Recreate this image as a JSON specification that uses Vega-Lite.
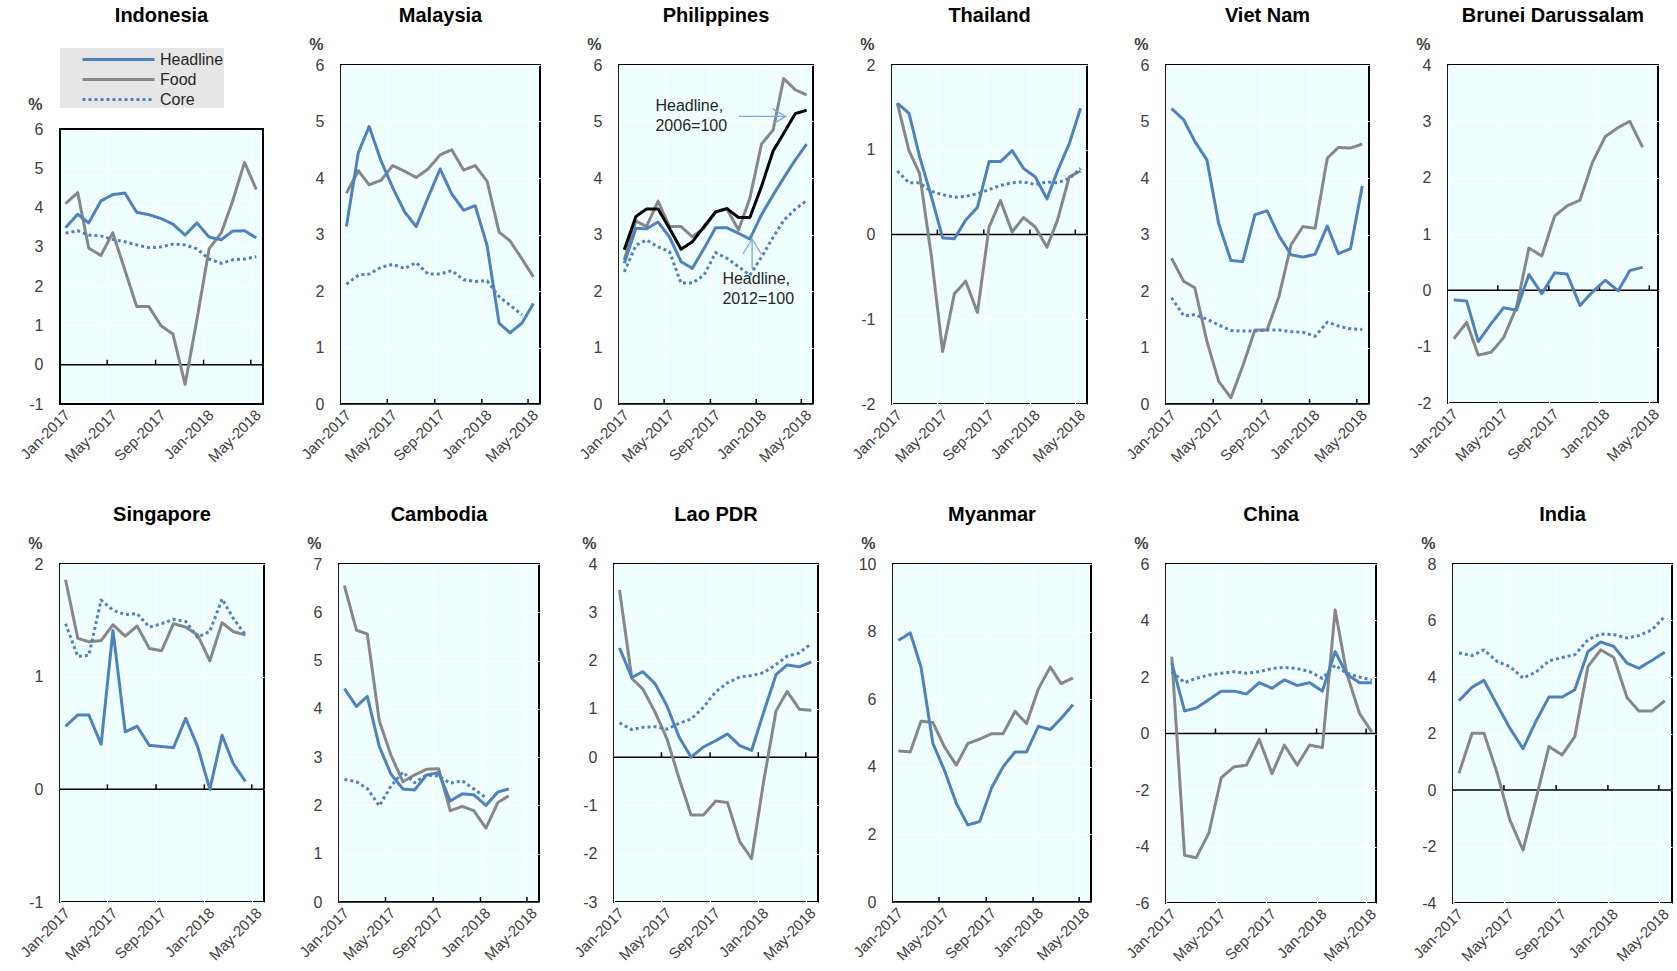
{
"$schema": "https://vega.github.io/schema/vega-lite/v6.json",
"background": "white",
"padding": {"left": 16, "top": 5, "right": 5, "bottom": 5},
"datasets": {
"cpi": [
{"country":"Indonesia","date":"2017-01-15","Headline":3.49,"Food":4.1,"Core":3.35},
{"country":"Indonesia","date":"2017-02-15","Headline":3.83,"Food":4.38,"Core":3.41},
{"country":"Indonesia","date":"2017-03-15","Headline":3.61,"Food":2.97,"Core":3.30},
{"country":"Indonesia","date":"2017-04-15","Headline":4.17,"Food":2.78,"Core":3.28},
{"country":"Indonesia","date":"2017-05-15","Headline":4.33,"Food":3.36,"Core":3.19},
{"country":"Indonesia","date":"2017-06-15","Headline":4.37,"Food":2.41,"Core":3.13},
{"country":"Indonesia","date":"2017-07-15","Headline":3.88,"Food":1.48,"Core":3.05},
{"country":"Indonesia","date":"2017-08-15","Headline":3.82,"Food":1.48,"Core":2.98},
{"country":"Indonesia","date":"2017-09-15","Headline":3.72,"Food":0.99,"Core":3.00},
{"country":"Indonesia","date":"2017-10-15","Headline":3.58,"Food":0.78,"Core":3.07},
{"country":"Indonesia","date":"2017-11-15","Headline":3.30,"Food":-0.5,"Core":3.05},
{"country":"Indonesia","date":"2017-12-15","Headline":3.61,"Food":1.15,"Core":2.95},
{"country":"Indonesia","date":"2018-01-15","Headline":3.25,"Food":2.95,"Core":2.69},
{"country":"Indonesia","date":"2018-02-15","Headline":3.18,"Food":3.36,"Core":2.58},
{"country":"Indonesia","date":"2018-03-15","Headline":3.40,"Food":4.14,"Core":2.67},
{"country":"Indonesia","date":"2018-04-15","Headline":3.41,"Food":5.15,"Core":2.69},
{"country":"Indonesia","date":"2018-05-15","Headline":3.23,"Food":4.46,"Core":2.75},
{"country":"Malaysia","date":"2017-01-15","Headline":3.14,"Food":3.73,"Core":2.12},
{"country":"Malaysia","date":"2017-02-15","Headline":4.45,"Food":4.13,"Core":2.28},
{"country":"Malaysia","date":"2017-03-15","Headline":4.91,"Food":3.88,"Core":2.3},
{"country":"Malaysia","date":"2017-04-15","Headline":4.3,"Food":3.96,"Core":2.42},
{"country":"Malaysia","date":"2017-05-15","Headline":3.83,"Food":4.22,"Core":2.47},
{"country":"Malaysia","date":"2017-06-15","Headline":3.4,"Food":4.12,"Core":2.4},
{"country":"Malaysia","date":"2017-07-15","Headline":3.14,"Food":4.01,"Core":2.5},
{"country":"Malaysia","date":"2017-08-15","Headline":3.66,"Food":4.16,"Core":2.3},
{"country":"Malaysia","date":"2017-09-15","Headline":4.16,"Food":4.41,"Core":2.3},
{"country":"Malaysia","date":"2017-10-15","Headline":3.72,"Food":4.5,"Core":2.36},
{"country":"Malaysia","date":"2017-11-15","Headline":3.43,"Food":4.14,"Core":2.2},
{"country":"Malaysia","date":"2017-12-15","Headline":3.51,"Food":4.22,"Core":2.17},
{"country":"Malaysia","date":"2018-01-15","Headline":2.8,"Food":3.94,"Core":2.18},
{"country":"Malaysia","date":"2018-02-15","Headline":1.43,"Food":3.04,"Core":1.9},
{"country":"Malaysia","date":"2018-03-15","Headline":1.26,"Food":2.89,"Core":1.75},
{"country":"Malaysia","date":"2018-04-15","Headline":1.43,"Food":2.57,"Core":1.58},
{"country":"Malaysia","date":"2018-05-15","Headline":1.78,"Food":2.25},
{"country":"Philippines","date":"2017-01-15","Headline":2.49,"H06":2.73,"Food":2.55,"Core":2.34},
{"country":"Philippines","date":"2017-02-15","Headline":3.11,"H06":3.32,"Food":3.24,"Core":2.81},
{"country":"Philippines","date":"2017-03-15","Headline":3.1,"H06":3.45,"Food":3.14,"Core":2.9},
{"country":"Philippines","date":"2017-04-15","Headline":3.22,"H06":3.45,"Food":3.59,"Core":2.78},
{"country":"Philippines","date":"2017-05-15","Headline":2.96,"H06":3.11,"Food":3.14,"Core":2.7},
{"country":"Philippines","date":"2017-06-15","Headline":2.52,"H06":2.74,"Food":3.14,"Core":2.14},
{"country":"Philippines","date":"2017-07-15","Headline":2.4,"H06":2.87,"Food":2.96,"Core":2.14},
{"country":"Philippines","date":"2017-08-15","Headline":2.75,"H06":3.14,"Food":3.11,"Core":2.28},
{"country":"Philippines","date":"2017-09-15","Headline":3.12,"H06":3.4,"Food":3.4,"Core":2.68},
{"country":"Philippines","date":"2017-10-15","Headline":3.12,"H06":3.46,"Food":3.45,"Core":2.58},
{"country":"Philippines","date":"2017-11-15","Headline":3.02,"H06":3.3,"Food":3.08,"Core":2.43},
{"country":"Philippines","date":"2017-12-15","Headline":2.92,"H06":3.3,"Food":3.64,"Core":2.28},
{"country":"Philippines","date":"2018-01-15","Headline":3.35,"H06":3.85,"Food":4.6,"Core":2.6},
{"country":"Philippines","date":"2018-02-15","Headline":3.7,"H06":4.48,"Food":4.85,"Core":2.95},
{"country":"Philippines","date":"2018-03-15","Headline":4.0,"H06":4.79,"Food":5.76,"Core":3.25},
{"country":"Philippines","date":"2018-04-15","Headline":4.32,"H06":5.14,"Food":5.56,"Core":3.45},
{"country":"Philippines","date":"2018-05-15","Headline":4.6,"H06":5.2,"Food":5.47,"Core":3.6},
{"country":"Thailand","date":"2017-01-15","Headline":1.55,"Food":1.55,"Core":0.75},
{"country":"Thailand","date":"2017-02-15","Headline":1.43,"Food":0.99,"Core":0.61},
{"country":"Thailand","date":"2017-03-15","Headline":0.92,"Food":0.72,"Core":0.61},
{"country":"Thailand","date":"2017-04-15","Headline":0.45,"Food":-0.25,"Core":0.51},
{"country":"Thailand","date":"2017-05-15","Headline":-0.04,"Food":-1.38,"Core":0.47},
{"country":"Thailand","date":"2017-06-15","Headline":-0.05,"Food":-0.7,"Core":0.44},
{"country":"Thailand","date":"2017-07-15","Headline":0.17,"Food":-0.55,"Core":0.45},
{"country":"Thailand","date":"2017-08-15","Headline":0.32,"Food":-0.92,"Core":0.48},
{"country":"Thailand","date":"2017-09-15","Headline":0.86,"Food":0.09,"Core":0.53},
{"country":"Thailand","date":"2017-10-15","Headline":0.86,"Food":0.4,"Core":0.58},
{"country":"Thailand","date":"2017-11-15","Headline":0.99,"Food":0.03,"Core":0.61},
{"country":"Thailand","date":"2017-12-15","Headline":0.78,"Food":0.2,"Core":0.62},
{"country":"Thailand","date":"2018-01-15","Headline":0.68,"Food":0.09,"Core":0.59},
{"country":"Thailand","date":"2018-02-15","Headline":0.42,"Food":-0.15,"Core":0.62},
{"country":"Thailand","date":"2018-03-15","Headline":0.75,"Food":0.17,"Core":0.61},
{"country":"Thailand","date":"2018-04-15","Headline":1.07,"Food":0.68,"Core":0.66},
{"country":"Thailand","date":"2018-05-15","Headline":1.49,"Food":0.75,"Core":0.78},
{"country":"Viet Nam","date":"2017-01-15","Headline":5.23,"Food":2.58,"Core":1.88},
{"country":"Viet Nam","date":"2017-02-15","Headline":5.03,"Food":2.17,"Core":1.56},
{"country":"Viet Nam","date":"2017-03-15","Headline":4.65,"Food":2.06,"Core":1.58},
{"country":"Viet Nam","date":"2017-04-15","Headline":4.32,"Food":1.11,"Core":1.5},
{"country":"Viet Nam","date":"2017-05-15","Headline":3.19,"Food":0.4,"Core":1.4},
{"country":"Viet Nam","date":"2017-06-15","Headline":2.54,"Food":0.11,"Core":1.3},
{"country":"Viet Nam","date":"2017-07-15","Headline":2.52,"Food":0.67,"Core":1.29},
{"country":"Viet Nam","date":"2017-08-15","Headline":3.35,"Food":1.31,"Core":1.29},
{"country":"Viet Nam","date":"2017-09-15","Headline":3.42,"Food":1.31,"Core":1.31},
{"country":"Viet Nam","date":"2017-10-15","Headline":2.98,"Food":1.9,"Core":1.31},
{"country":"Viet Nam","date":"2017-11-15","Headline":2.64,"Food":2.82,"Core":1.28},
{"country":"Viet Nam","date":"2017-12-15","Headline":2.6,"Food":3.14,"Core":1.27},
{"country":"Viet Nam","date":"2018-01-15","Headline":2.65,"Food":3.11,"Core":1.2},
{"country":"Viet Nam","date":"2018-02-15","Headline":3.15,"Food":4.35,"Core":1.45},
{"country":"Viet Nam","date":"2018-03-15","Headline":2.66,"Food":4.54,"Core":1.38},
{"country":"Viet Nam","date":"2018-04-15","Headline":2.75,"Food":4.53,"Core":1.33},
{"country":"Viet Nam","date":"2018-05-15","Headline":3.86,"Food":4.6,"Core":1.32},
{"country":"Brunei Darussalam","date":"2017-01-15","Headline":-0.17,"Food":-0.86},
{"country":"Brunei Darussalam","date":"2017-02-15","Headline":-0.19,"Food":-0.57},
{"country":"Brunei Darussalam","date":"2017-03-15","Headline":-0.91,"Food":-1.15},
{"country":"Brunei Darussalam","date":"2017-04-15","Headline":-0.59,"Food":-1.1},
{"country":"Brunei Darussalam","date":"2017-05-15","Headline":-0.31,"Food":-0.84},
{"country":"Brunei Darussalam","date":"2017-06-15","Headline":-0.35,"Food":-0.3},
{"country":"Brunei Darussalam","date":"2017-07-15","Headline":0.28,"Food":0.75},
{"country":"Brunei Darussalam","date":"2017-08-15","Headline":-0.06,"Food":0.61},
{"country":"Brunei Darussalam","date":"2017-09-15","Headline":0.31,"Food":1.32},
{"country":"Brunei Darussalam","date":"2017-10-15","Headline":0.29,"Food":1.5},
{"country":"Brunei Darussalam","date":"2017-11-15","Headline":-0.27,"Food":1.6},
{"country":"Brunei Darussalam","date":"2017-12-15","Headline":-0.03,"Food":2.27},
{"country":"Brunei Darussalam","date":"2018-01-15","Headline":0.18,"Food":2.73},
{"country":"Brunei Darussalam","date":"2018-02-15","Headline":-0.01,"Food":2.89},
{"country":"Brunei Darussalam","date":"2018-03-15","Headline":0.35,"Food":3.0},
{"country":"Brunei Darussalam","date":"2018-04-15","Headline":0.41,"Food":2.54},
{"country":"Singapore","date":"2017-01-15","Headline":0.56,"Food":1.86,"Core":1.47},
{"country":"Singapore","date":"2017-02-15","Headline":0.66,"Food":1.34,"Core":1.18},
{"country":"Singapore","date":"2017-03-15","Headline":0.66,"Food":1.31,"Core":1.19},
{"country":"Singapore","date":"2017-04-15","Headline":0.4,"Food":1.32,"Core":1.68},
{"country":"Singapore","date":"2017-05-15","Headline":1.41,"Food":1.46,"Core":1.59},
{"country":"Singapore","date":"2017-06-15","Headline":0.51,"Food":1.36,"Core":1.55},
{"country":"Singapore","date":"2017-07-15","Headline":0.56,"Food":1.45,"Core":1.56},
{"country":"Singapore","date":"2017-08-15","Headline":0.39,"Food":1.25,"Core":1.44},
{"country":"Singapore","date":"2017-09-15","Headline":0.38,"Food":1.23,"Core":1.47},
{"country":"Singapore","date":"2017-10-15","Headline":0.37,"Food":1.47,"Core":1.51},
{"country":"Singapore","date":"2017-11-15","Headline":0.63,"Food":1.44,"Core":1.49},
{"country":"Singapore","date":"2017-12-15","Headline":0.38,"Food":1.37,"Core":1.35},
{"country":"Singapore","date":"2018-01-15","Headline":0.0,"Food":1.14,"Core":1.4},
{"country":"Singapore","date":"2018-02-15","Headline":0.48,"Food":1.48,"Core":1.69},
{"country":"Singapore","date":"2018-03-15","Headline":0.23,"Food":1.4,"Core":1.52},
{"country":"Singapore","date":"2018-04-15","Headline":0.07,"Food":1.37,"Core":1.37},
{"country":"Cambodia","date":"2017-01-15","Headline":4.42,"Food":6.55,"Core":2.54},
{"country":"Cambodia","date":"2017-02-15","Headline":4.05,"Food":5.63,"Core":2.49},
{"country":"Cambodia","date":"2017-03-15","Headline":4.26,"Food":5.55,"Core":2.35},
{"country":"Cambodia","date":"2017-04-15","Headline":3.22,"Food":3.75,"Core":1.99},
{"country":"Cambodia","date":"2017-05-15","Headline":2.65,"Food":3.04,"Core":2.4},
{"country":"Cambodia","date":"2017-06-15","Headline":2.34,"Food":2.49,"Core":2.69},
{"country":"Cambodia","date":"2017-07-15","Headline":2.32,"Food":2.63,"Core":2.47},
{"country":"Cambodia","date":"2017-08-15","Headline":2.63,"Food":2.75,"Core":2.63},
{"country":"Cambodia","date":"2017-09-15","Headline":2.68,"Food":2.76,"Core":2.61},
{"country":"Cambodia","date":"2017-10-15","Headline":2.09,"Food":1.89,"Core":2.46},
{"country":"Cambodia","date":"2017-11-15","Headline":2.24,"Food":1.98,"Core":2.51},
{"country":"Cambodia","date":"2017-12-15","Headline":2.22,"Food":1.89,"Core":2.34},
{"country":"Cambodia","date":"2018-01-15","Headline":2.0,"Food":1.53,"Core":2.16},
{"country":"Cambodia","date":"2018-02-15","Headline":2.28,"Food":2.06},
{"country":"Cambodia","date":"2018-03-15","Headline":2.34,"Food":2.2},
{"country":"Lao PDR","date":"2017-01-15","Headline":2.26,"Food":3.46,"Core":0.71},
{"country":"Lao PDR","date":"2017-02-15","Headline":1.65,"Food":1.63,"Core":0.57},
{"country":"Lao PDR","date":"2017-03-15","Headline":1.77,"Food":1.41,"Core":0.62},
{"country":"Lao PDR","date":"2017-04-15","Headline":1.52,"Food":0.93,"Core":0.63},
{"country":"Lao PDR","date":"2017-05-15","Headline":1.06,"Food":0.38,"Core":0.58},
{"country":"Lao PDR","date":"2017-06-15","Headline":0.41,"Food":-0.45,"Core":0.7},
{"country":"Lao PDR","date":"2017-07-15","Headline":0.0,"Food":-1.2,"Core":0.79},
{"country":"Lao PDR","date":"2017-08-15","Headline":0.21,"Food":-1.2,"Core":1.03},
{"country":"Lao PDR","date":"2017-09-15","Headline":0.34,"Food":-0.91,"Core":1.35},
{"country":"Lao PDR","date":"2017-10-15","Headline":0.48,"Food":-0.94,"Core":1.54},
{"country":"Lao PDR","date":"2017-11-15","Headline":0.24,"Food":-1.75,"Core":1.66},
{"country":"Lao PDR","date":"2017-12-15","Headline":0.14,"Food":-2.1,"Core":1.69},
{"country":"Lao PDR","date":"2018-01-15","Headline":0.94,"Food":-0.48,"Core":1.75},
{"country":"Lao PDR","date":"2018-02-15","Headline":1.71,"Food":0.96,"Core":1.92},
{"country":"Lao PDR","date":"2018-03-15","Headline":1.91,"Food":1.36,"Core":2.09},
{"country":"Lao PDR","date":"2018-04-15","Headline":1.87,"Food":0.99,"Core":2.16},
{"country":"Lao PDR","date":"2018-05-15","Headline":1.97,"Food":0.97,"Core":2.35},
{"country":"Myanmar","date":"2017-01-15","Headline":7.74,"Food":4.47},
{"country":"Myanmar","date":"2017-02-15","Headline":7.96,"Food":4.44},
{"country":"Myanmar","date":"2017-03-15","Headline":6.95,"Food":5.35},
{"country":"Myanmar","date":"2017-04-15","Headline":4.69,"Food":5.31},
{"country":"Myanmar","date":"2017-05-15","Headline":3.9,"Food":4.59},
{"country":"Myanmar","date":"2017-06-15","Headline":2.92,"Food":4.05},
{"country":"Myanmar","date":"2017-07-15","Headline":2.28,"Food":4.69},
{"country":"Myanmar","date":"2017-08-15","Headline":2.38,"Food":4.82},
{"country":"Myanmar","date":"2017-09-15","Headline":3.38,"Food":4.98},
{"country":"Myanmar","date":"2017-10-15","Headline":4.0,"Food":4.98},
{"country":"Myanmar","date":"2017-11-15","Headline":4.44,"Food":5.64},
{"country":"Myanmar","date":"2017-12-15","Headline":4.44,"Food":5.28},
{"country":"Myanmar","date":"2018-01-15","Headline":5.2,"Food":6.31},
{"country":"Myanmar","date":"2018-02-15","Headline":5.1,"Food":6.95},
{"country":"Myanmar","date":"2018-03-15","Headline":5.43,"Food":6.46},
{"country":"Myanmar","date":"2018-04-15","Headline":5.84,"Food":6.63},
{"country":"China","date":"2017-01-15","Headline":2.5,"Food":2.72,"Core":2.19},
{"country":"China","date":"2017-02-15","Headline":0.8,"Food":-4.31,"Core":1.8},
{"country":"China","date":"2017-03-15","Headline":0.9,"Food":-4.4,"Core":1.95},
{"country":"China","date":"2017-04-15","Headline":1.2,"Food":-3.52,"Core":2.07},
{"country":"China","date":"2017-05-15","Headline":1.5,"Food":-1.56,"Core":2.13},
{"country":"China","date":"2017-06-15","Headline":1.5,"Food":-1.18,"Core":2.19},
{"country":"China","date":"2017-07-15","Headline":1.4,"Food":-1.12,"Core":2.13},
{"country":"China","date":"2017-08-15","Headline":1.8,"Food":-0.21,"Core":2.19},
{"country":"China","date":"2017-09-15","Headline":1.6,"Food":-1.42,"Core":2.3},
{"country":"China","date":"2017-10-15","Headline":1.9,"Food":-0.41,"Core":2.34},
{"country":"China","date":"2017-11-15","Headline":1.7,"Food":-1.12,"Core":2.3},
{"country":"China","date":"2017-12-15","Headline":1.8,"Food":-0.41,"Core":2.19},
{"country":"China","date":"2018-01-15","Headline":1.5,"Food":-0.5,"Core":1.95},
{"country":"China","date":"2018-02-15","Headline":2.9,"Food":4.37,"Core":2.42},
{"country":"China","date":"2018-03-15","Headline":2.1,"Food":2.13,"Core":2.13},
{"country":"China","date":"2018-04-15","Headline":1.8,"Food":0.71,"Core":2.0},
{"country":"China","date":"2018-05-15","Headline":1.8,"Food":0.05,"Core":1.89},
{"country":"India","date":"2017-01-15","Headline":3.16,"Food":0.59,"Core":4.85},
{"country":"India","date":"2017-02-15","Headline":3.64,"Food":2.01,"Core":4.76},
{"country":"India","date":"2017-03-15","Headline":3.88,"Food":2.01,"Core":4.96},
{"country":"India","date":"2017-04-15","Headline":3.01,"Food":0.6,"Core":4.55},
{"country":"India","date":"2017-05-15","Headline":2.19,"Food":-1.06,"Core":4.37},
{"country":"India","date":"2017-06-15","Headline":1.46,"Food":-2.13,"Core":3.96},
{"country":"India","date":"2017-07-15","Headline":2.42,"Food":-0.35,"Core":4.17},
{"country":"India","date":"2017-08-15","Headline":3.29,"Food":1.54,"Core":4.57},
{"country":"India","date":"2017-09-15","Headline":3.29,"Food":1.24,"Core":4.69},
{"country":"India","date":"2017-10-15","Headline":3.55,"Food":1.89,"Core":4.79},
{"country":"India","date":"2017-11-15","Headline":4.9,"Food":4.37,"Core":5.32},
{"country":"India","date":"2017-12-15","Headline":5.24,"Food":4.96,"Core":5.52},
{"country":"India","date":"2018-01-15","Headline":5.08,"Food":4.69,"Core":5.5},
{"country":"India","date":"2018-02-15","Headline":4.49,"Food":3.27,"Core":5.38},
{"country":"India","date":"2018-03-15","Headline":4.31,"Food":2.8,"Core":5.47},
{"country":"India","date":"2018-04-15","Headline":4.59,"Food":2.8,"Core":5.67},
{"country":"India","date":"2018-05-15","Headline":4.88,"Food":3.16,"Core":6.15}
],
"notes": [
{"date":"2017-04-08","value":5.28,"label":"Headline,\n2006=100"},
{"date":"2017-10-03","value":2.22,"label":"Headline,\n2012=100"}
],
"arrows": [
{"date":"2017-11-16","value":5.09,"date2":"2018-03-20","value2":5.09,"dir":"right"},
{"date":"2017-12-21","value":2.40,"date2":"2017-12-21","value2":2.92,"dir":"up"}
],
"igrid": [
{"date":"2017-05-01"},{"date":"2017-09-01"},{"date":"2018-01-01"},{"date":"2018-05-01"}
],
"ihgrid": [
{"v":0},{"v":1},{"v":2},{"v":3},{"v":4},{"v":5}
]
},
"spacing": 38,
"resolve": {"scale": {"color": "independent", "strokeDash": "independent"}, "legend": {"color": "independent", "strokeDash": "independent"}},
"vconcat": [
{"columns": 6, "align": "none", "spacing": 33,
 "resolve": {"scale": {"color": "independent", "strokeDash": "independent"}, "legend": {"color": "independent", "strokeDash": "independent"}},
 "concat": [
{"title": {"text": "Indonesia", "offset": 22}, "width": 203, "height": 339, "view": {"stroke": null, "fill": null},
 "layer": [
  {"data": {"values": [{}]}, "mark": {"type": "rect", "fill": "#EFFFFF", "strokeWidth": 0},
   "encoding": {
    "x": {"datum": {"year": 2017, "month": 1, "date": 1}, "type": "temporal", "scale": {"domain": [{"year": 2017, "month": 1, "date": 1}, {"year": 2018, "month": 6, "date": 1}]}, "axis": {"values": [{"year": 2017, "month": 1, "date": 1}, {"year": 2017, "month": 5, "date": 1}, {"year": 2017, "month": 9, "date": 1}, {"year": 2018, "month": 1, "date": 1}, {"year": 2018, "month": 5, "date": 1}], "format": "%b-%Y", "title": null, "grid": false}},
    "x2": {"datum": {"year": 2018, "month": 6, "date": 1}},
    "y": {"datum": -1, "type": "quantitative", "scale": {"domain": [-1, 7.63], "nice": false, "zero": false}, "axis": {"values": [-1, 0, 1, 2, 3, 4, 5, 6], "title": "%", "titleY": 39, "grid": false}},
    "y2": {"datum": 6}}},
  {"data": {"name": "igrid"}, "mark": {"type": "rule", "color": "#FFFFFF", "strokeWidth": 1.2},
   "encoding": {"x": {"field": "date", "type": "temporal"}, "y": {"datum": -1, "type": "quantitative"}, "y2": {"datum": 6}}},
  {"data": {"name": "ihgrid"}, "mark": {"type": "rule", "color": "#FFFFFF", "strokeWidth": 1.2},
   "encoding": {"y": {"field": "v", "type": "quantitative"}}},
  {"data": {"values": [{}]}, "mark": {"type": "rule", "color": "black", "strokeWidth": 1.5}, "encoding": {"y": {"datum": 0, "type": "quantitative"}}},
  {"data": {"name": "igrid"}, "mark": {"type": "point", "shape": "M0,0L0,-1", "size": 100, "filled": false, "color": "black", "strokeWidth": 1.5, "opacity": 1}, "encoding": {"x": {"field": "date", "type": "temporal"}, "y": {"datum": 0, "type": "quantitative"}}},
  {"data": {"values": [{}]}, "mark": {"type": "rect", "fillOpacity": 0, "stroke": "#000000", "strokeWidth": 2},
   "encoding": {"x": {"datum": {"year": 2017, "month": 1, "date": 1}, "type": "temporal"}, "x2": {"datum": {"year": 2018, "month": 6, "date": 1}}, "y": {"datum": -1, "type": "quantitative"}, "y2": {"datum": 6}}},
  {"data": {"name": "cpi"},
   "transform": [{"filter": "datum.country === 'Indonesia'"}, {"fold": ["Food", "Core", "Headline"], "as": ["series", "value"]}, {"filter": "isValid(datum.value)"}],
   "mark": {"type": "line", "strokeWidth": 3},
   "encoding": {
    "x": {"field": "date", "type": "temporal", "scale": {"domain": [{"year": 2017, "month": 1, "date": 1}, {"year": 2018, "month": 6, "date": 1}]}, "axis": {"values": [{"year": 2017, "month": 1, "date": 1}, {"year": 2017, "month": 5, "date": 1}, {"year": 2017, "month": 9, "date": 1}, {"year": 2018, "month": 1, "date": 1}, {"year": 2018, "month": 5, "date": 1}], "format": "%b-%Y", "title": null, "grid": false}},
    "y": {"field": "value", "type": "quantitative", "scale": {"domain": [-1, 7.63], "nice": false, "zero": false}, "axis": {"values": [-1, 0, 1, 2, 3, 4, 5, 6], "title": "%", "titleY": 39, "grid": false}},
    "color": {"field": "series", "type": "nominal", "scale": {"domain": ["Headline", "Food", "Core"], "range": ["#4F81BD", "#878787", "#4F81BD"]},
      "legend": {"orient": "none", "legendX": 0, "legendY": -17, "title": null, "values": ["Headline", "Food", "Core"], "labelExpr": "datum.label + '\u00a0\u00a0\u00a0\u00a0\u00a0\u00a0\u00a0\u00a0\u00a0\u00a0'", "fillColor": "#E6E6E6", "padding": 0, "symbolType": "M-3.6,0L3.6,0", "symbolSize": 400, "symbolStrokeWidth": 3, "symbolOffset": 47, "labelOffset": 30, "labelFontSize": 16, "labelColor": "#262626", "rowPadding": 0, "direction": "vertical"}},
    "strokeDash": {"field": "series", "type": "nominal", "scale": {"domain": ["Headline", "Food", "Core"], "range": [[1, 0], [1, 0], [3, 3]]},
      "legend": {"orient": "none", "legendX": 0, "legendY": -17, "title": null, "values": ["Headline", "Food", "Core"], "labelExpr": "datum.label + '\u00a0\u00a0\u00a0\u00a0\u00a0\u00a0\u00a0\u00a0\u00a0\u00a0'", "fillColor": "#E6E6E6", "padding": 0, "symbolType": "M-3.6,0L3.6,0", "symbolSize": 400, "symbolStrokeWidth": 3, "symbolOffset": 47, "labelOffset": 30, "labelFontSize": 16, "labelColor": "#262626", "rowPadding": 0, "direction": "vertical"}}
   }}
 ]},
{"title": "Malaysia", "width": 199, "height": 339,
 "layer": [
  {"data": {"values": [{}]}, "mark": {"type": "rule", "color": "black", "strokeWidth": 1.5}, "encoding": {"y": {"datum": 0, "type": "quantitative", "scale": {"domain": [0, 6], "nice": false, "zero": false}, "axis": {"values": [0, 1, 2, 3, 4, 5, 6], "title": "%"}}}},
  {"data": {"name": "igrid"}, "mark": {"type": "point", "shape": "M0,0L0,-1", "size": 100, "filled": false, "color": "black", "strokeWidth": 1.5, "opacity": 1}, "encoding": {"x": {"field": "date", "type": "temporal", "scale": {"domain": [{"year": 2017, "month": 1, "date": 1}, {"year": 2018, "month": 6, "date": 1}]}, "axis": {"values": [{"year": 2017, "month": 1, "date": 1}, {"year": 2017, "month": 5, "date": 1}, {"year": 2017, "month": 9, "date": 1}, {"year": 2018, "month": 1, "date": 1}, {"year": 2018, "month": 5, "date": 1}], "format": "%b-%Y", "title": null}}, "y": {"datum": 0, "type": "quantitative"}}},
  {"data": {"name": "cpi"},
   "transform": [{"filter": "datum.country === 'Malaysia'"}, {"fold": ["Food", "Core", "Headline"], "as": ["series", "value"]}, {"filter": "isValid(datum.value)"}],
   "mark": {"type": "line", "strokeWidth": 3},
   "encoding": {
    "x": {"field": "date", "type": "temporal", "scale": {"domain": [{"year": 2017, "month": 1, "date": 1}, {"year": 2018, "month": 6, "date": 1}]}, "axis": {"values": [{"year": 2017, "month": 1, "date": 1}, {"year": 2017, "month": 5, "date": 1}, {"year": 2017, "month": 9, "date": 1}, {"year": 2018, "month": 1, "date": 1}, {"year": 2018, "month": 5, "date": 1}], "format": "%b-%Y", "title": null}},
    "y": {"field": "value", "type": "quantitative", "scale": {"domain": [0, 6], "nice": false, "zero": false}, "axis": {"values": [0, 1, 2, 3, 4, 5, 6], "title": "%"}},
    "color": {"field": "series", "type": "nominal", "scale": {"domain": ["Headline", "Food", "Core"], "range": ["#4F81BD", "#878787", "#4F81BD"]}, "legend": null},
    "strokeDash": {"field": "series", "type": "nominal", "scale": {"domain": ["Headline", "Food", "Core"], "range": [[1, 0], [1, 0], [3, 3]]}, "legend": null}
   }}
 ]},
{"title": "Philippines", "width": 194, "height": 339,
 "layer": [
  {"data": {"values": [{}]}, "mark": {"type": "rule", "color": "black", "strokeWidth": 1.5}, "encoding": {"y": {"datum": 0, "type": "quantitative", "scale": {"domain": [0, 6], "nice": false, "zero": false}, "axis": {"values": [0, 1, 2, 3, 4, 5, 6], "title": "%"}}}},
  {"data": {"name": "igrid"}, "mark": {"type": "point", "shape": "M0,0L0,-1", "size": 100, "filled": false, "color": "black", "strokeWidth": 1.5, "opacity": 1}, "encoding": {"x": {"field": "date", "type": "temporal", "scale": {"domain": [{"year": 2017, "month": 1, "date": 1}, {"year": 2018, "month": 6, "date": 1}]}, "axis": {"values": [{"year": 2017, "month": 1, "date": 1}, {"year": 2017, "month": 5, "date": 1}, {"year": 2017, "month": 9, "date": 1}, {"year": 2018, "month": 1, "date": 1}, {"year": 2018, "month": 5, "date": 1}], "format": "%b-%Y", "title": null}}, "y": {"datum": 0, "type": "quantitative"}}},
  {"data": {"name": "cpi"},
   "transform": [{"filter": "datum.country === 'Philippines'"}, {"fold": ["Food", "Core", "Headline", "H06"], "as": ["series", "value"]}, {"filter": "isValid(datum.value)"}],
   "mark": {"type": "line", "strokeWidth": 3},
   "encoding": {
    "x": {"field": "date", "type": "temporal", "scale": {"domain": [{"year": 2017, "month": 1, "date": 1}, {"year": 2018, "month": 6, "date": 1}]}, "axis": {"values": [{"year": 2017, "month": 1, "date": 1}, {"year": 2017, "month": 5, "date": 1}, {"year": 2017, "month": 9, "date": 1}, {"year": 2018, "month": 1, "date": 1}, {"year": 2018, "month": 5, "date": 1}], "format": "%b-%Y", "title": null}},
    "y": {"field": "value", "type": "quantitative", "scale": {"domain": [0, 6], "nice": false, "zero": false}, "axis": {"values": [0, 1, 2, 3, 4, 5, 6], "title": "%"}},
    "color": {"field": "series", "type": "nominal", "scale": {"domain": ["Headline", "Food", "Core", "H06"], "range": ["#4F81BD", "#878787", "#4F81BD", "#000000"]}, "legend": null},
    "strokeDash": {"field": "series", "type": "nominal", "scale": {"domain": ["Headline", "Food", "Core", "H06"], "range": [[1, 0], [1, 0], [3, 3], [1, 0]]}, "legend": null}
   }},
  {"data": {"name": "notes"}, "mark": {"type": "text", "align": "left", "baseline": "middle", "fontSize": 16, "lineHeight": 20, "lineBreak": "\n", "color": "#262626"},
   "encoding": {"x": {"field": "date", "type": "temporal"}, "y": {"field": "value", "type": "quantitative"}, "text": {"field": "label"}}},
  {"data": {"name": "arrows"}, "mark": {"type": "rule", "color": "#79A7E0", "strokeWidth": 1.3},
   "encoding": {"x": {"field": "date", "type": "temporal"}, "x2": {"field": "date2"}, "y": {"field": "value", "type": "quantitative"}, "y2": {"field": "value2"}}},
  {"data": {"name": "arrows"}, "mark": {"type": "point", "filled": false, "color": "#79A7E0", "strokeWidth": 1.3, "size": 169, "opacity": 1},
   "encoding": {"x": {"field": "date2", "type": "temporal"}, "y": {"field": "value2", "type": "quantitative"},
    "shape": {"field": "dir", "type": "nominal", "scale": {"domain": ["right", "up"], "range": ["M-2,-1.2L0,0L-2,1.2", "M-1.4,2.3L0,0L1.4,2.3"]}, "legend": null}}}
 ]},
{"title": "Thailand", "width": 195, "height": 339,
 "layer": [
  {"data": {"values": [{}]}, "mark": {"type": "rule", "color": "black", "strokeWidth": 1.5}, "encoding": {"y": {"datum": 0, "type": "quantitative", "scale": {"domain": [-2, 2], "nice": false, "zero": false}, "axis": {"values": [-2, -1, 0, 1, 2], "title": "%"}}}},
  {"data": {"name": "igrid"}, "mark": {"type": "point", "shape": "M0,0L0,-1", "size": 100, "filled": false, "color": "black", "strokeWidth": 1.5, "opacity": 1}, "encoding": {"x": {"field": "date", "type": "temporal", "scale": {"domain": [{"year": 2017, "month": 1, "date": 1}, {"year": 2018, "month": 6, "date": 1}]}, "axis": {"values": [{"year": 2017, "month": 1, "date": 1}, {"year": 2017, "month": 5, "date": 1}, {"year": 2017, "month": 9, "date": 1}, {"year": 2018, "month": 1, "date": 1}, {"year": 2018, "month": 5, "date": 1}], "format": "%b-%Y", "title": null}}, "y": {"datum": 0, "type": "quantitative"}}},
  {"data": {"name": "cpi"},
   "transform": [{"filter": "datum.country === 'Thailand'"}, {"fold": ["Food", "Core", "Headline"], "as": ["series", "value"]}, {"filter": "isValid(datum.value)"}],
   "mark": {"type": "line", "strokeWidth": 3},
   "encoding": {
    "x": {"field": "date", "type": "temporal", "scale": {"domain": [{"year": 2017, "month": 1, "date": 1}, {"year": 2018, "month": 6, "date": 1}]}, "axis": {"values": [{"year": 2017, "month": 1, "date": 1}, {"year": 2017, "month": 5, "date": 1}, {"year": 2017, "month": 9, "date": 1}, {"year": 2018, "month": 1, "date": 1}, {"year": 2018, "month": 5, "date": 1}], "format": "%b-%Y", "title": null}},
    "y": {"field": "value", "type": "quantitative", "scale": {"domain": [-2, 2], "nice": false, "zero": false}, "axis": {"values": [-2, -1, 0, 1, 2], "title": "%"}},
    "color": {"field": "series", "type": "nominal", "scale": {"domain": ["Headline", "Food", "Core"], "range": ["#4F81BD", "#878787", "#4F81BD"]}, "legend": null},
    "strokeDash": {"field": "series", "type": "nominal", "scale": {"domain": ["Headline", "Food", "Core"], "range": [[1, 0], [1, 0], [3, 3]]}, "legend": null}
   }}
 ]},
{"title": "Viet Nam", "width": 203, "height": 339,
 "layer": [
  {"data": {"values": [{}]}, "mark": {"type": "rule", "color": "black", "strokeWidth": 1.5}, "encoding": {"y": {"datum": 0, "type": "quantitative", "scale": {"domain": [0, 6], "nice": false, "zero": false}, "axis": {"values": [0, 1, 2, 3, 4, 5, 6], "title": "%"}}}},
  {"data": {"name": "igrid"}, "mark": {"type": "point", "shape": "M0,0L0,-1", "size": 100, "filled": false, "color": "black", "strokeWidth": 1.5, "opacity": 1}, "encoding": {"x": {"field": "date", "type": "temporal", "scale": {"domain": [{"year": 2017, "month": 1, "date": 1}, {"year": 2018, "month": 6, "date": 1}]}, "axis": {"values": [{"year": 2017, "month": 1, "date": 1}, {"year": 2017, "month": 5, "date": 1}, {"year": 2017, "month": 9, "date": 1}, {"year": 2018, "month": 1, "date": 1}, {"year": 2018, "month": 5, "date": 1}], "format": "%b-%Y", "title": null}}, "y": {"datum": 0, "type": "quantitative"}}},
  {"data": {"name": "cpi"},
   "transform": [{"filter": "datum.country === 'Viet Nam'"}, {"fold": ["Food", "Core", "Headline"], "as": ["series", "value"]}, {"filter": "isValid(datum.value)"}],
   "mark": {"type": "line", "strokeWidth": 3},
   "encoding": {
    "x": {"field": "date", "type": "temporal", "scale": {"domain": [{"year": 2017, "month": 1, "date": 1}, {"year": 2018, "month": 6, "date": 1}]}, "axis": {"values": [{"year": 2017, "month": 1, "date": 1}, {"year": 2017, "month": 5, "date": 1}, {"year": 2017, "month": 9, "date": 1}, {"year": 2018, "month": 1, "date": 1}, {"year": 2018, "month": 5, "date": 1}], "format": "%b-%Y", "title": null}},
    "y": {"field": "value", "type": "quantitative", "scale": {"domain": [0, 6], "nice": false, "zero": false}, "axis": {"values": [0, 1, 2, 3, 4, 5, 6], "title": "%"}},
    "color": {"field": "series", "type": "nominal", "scale": {"domain": ["Headline", "Food", "Core"], "range": ["#4F81BD", "#878787", "#4F81BD"]}, "legend": null},
    "strokeDash": {"field": "series", "type": "nominal", "scale": {"domain": ["Headline", "Food", "Core"], "range": [[1, 0], [1, 0], [3, 3]]}, "legend": null}
   }}
 ]},
{"title": "Brunei Darussalam", "width": 210, "height": 338,
 "layer": [
  {"data": {"values": [{}]}, "mark": {"type": "rule", "color": "black", "strokeWidth": 1.5}, "encoding": {"y": {"datum": 0, "type": "quantitative", "scale": {"domain": [-2, 4], "nice": false, "zero": false}, "axis": {"values": [-2, -1, 0, 1, 2, 3, 4], "title": "%"}}}},
  {"data": {"name": "igrid"}, "mark": {"type": "point", "shape": "M0,0L0,-1", "size": 100, "filled": false, "color": "black", "strokeWidth": 1.5, "opacity": 1}, "encoding": {"x": {"field": "date", "type": "temporal", "scale": {"domain": [{"year": 2017, "month": 1, "date": 1}, {"year": 2018, "month": 5, "date": 22}]}, "axis": {"values": [{"year": 2017, "month": 1, "date": 1}, {"year": 2017, "month": 5, "date": 1}, {"year": 2017, "month": 9, "date": 1}, {"year": 2018, "month": 1, "date": 1}, {"year": 2018, "month": 5, "date": 1}], "format": "%b-%Y", "title": null}}, "y": {"datum": 0, "type": "quantitative"}}},
  {"data": {"name": "cpi"},
   "transform": [{"filter": "datum.country === 'Brunei Darussalam'"}, {"fold": ["Food", "Core", "Headline"], "as": ["series", "value"]}, {"filter": "isValid(datum.value)"}],
   "mark": {"type": "line", "strokeWidth": 3},
   "encoding": {
    "x": {"field": "date", "type": "temporal", "scale": {"domain": [{"year": 2017, "month": 1, "date": 1}, {"year": 2018, "month": 5, "date": 22}]}, "axis": {"values": [{"year": 2017, "month": 1, "date": 1}, {"year": 2017, "month": 5, "date": 1}, {"year": 2017, "month": 9, "date": 1}, {"year": 2018, "month": 1, "date": 1}, {"year": 2018, "month": 5, "date": 1}], "format": "%b-%Y", "title": null}},
    "y": {"field": "value", "type": "quantitative", "scale": {"domain": [-2, 4], "nice": false, "zero": false}, "axis": {"values": [-2, -1, 0, 1, 2, 3, 4], "title": "%"}},
    "color": {"field": "series", "type": "nominal", "scale": {"domain": ["Headline", "Food", "Core"], "range": ["#4F81BD", "#878787", "#4F81BD"]}, "legend": null},
    "strokeDash": {"field": "series", "type": "nominal", "scale": {"domain": ["Headline", "Food", "Core"], "range": [[1, 0], [1, 0], [3, 3]]}, "legend": null}
   }}
 ]}
]},
{"columns": 6, "align": "none", "spacing": 29,
 "resolve": {"scale": {"color": "independent", "strokeDash": "independent"}, "legend": {"color": "independent", "strokeDash": "independent"}},
 "concat": [
{"title": "Singapore", "width": 204, "height": 338,
 "layer": [
  {"data": {"values": [{}]}, "mark": {"type": "rule", "color": "black", "strokeWidth": 1.5}, "encoding": {"y": {"datum": 0, "type": "quantitative", "scale": {"domain": [-1, 2], "nice": false, "zero": false}, "axis": {"values": [-1, 0, 1, 2], "title": "%"}}}},
  {"data": {"name": "igrid"}, "mark": {"type": "point", "shape": "M0,0L0,-1", "size": 100, "filled": false, "color": "black", "strokeWidth": 1.5, "opacity": 1}, "encoding": {"x": {"field": "date", "type": "temporal", "scale": {"domain": [{"year": 2017, "month": 1, "date": 1}, {"year": 2018, "month": 6, "date": 1}]}, "axis": {"values": [{"year": 2017, "month": 1, "date": 1}, {"year": 2017, "month": 5, "date": 1}, {"year": 2017, "month": 9, "date": 1}, {"year": 2018, "month": 1, "date": 1}, {"year": 2018, "month": 5, "date": 1}], "format": "%b-%Y", "title": null}}, "y": {"datum": 0, "type": "quantitative"}}},
  {"data": {"name": "cpi"},
   "transform": [{"filter": "datum.country === 'Singapore'"}, {"fold": ["Food", "Core", "Headline"], "as": ["series", "value"]}, {"filter": "isValid(datum.value)"}],
   "mark": {"type": "line", "strokeWidth": 3},
   "encoding": {
    "x": {"field": "date", "type": "temporal", "scale": {"domain": [{"year": 2017, "month": 1, "date": 1}, {"year": 2018, "month": 6, "date": 1}]}, "axis": {"values": [{"year": 2017, "month": 1, "date": 1}, {"year": 2017, "month": 5, "date": 1}, {"year": 2017, "month": 9, "date": 1}, {"year": 2018, "month": 1, "date": 1}, {"year": 2018, "month": 5, "date": 1}], "format": "%b-%Y", "title": null}},
    "y": {"field": "value", "type": "quantitative", "scale": {"domain": [-1, 2], "nice": false, "zero": false}, "axis": {"values": [-1, 0, 1, 2], "title": "%"}},
    "color": {"field": "series", "type": "nominal", "scale": {"domain": ["Headline", "Food", "Core"], "range": ["#4F81BD", "#878787", "#4F81BD"]}, "legend": null},
    "strokeDash": {"field": "series", "type": "nominal", "scale": {"domain": ["Headline", "Food", "Core"], "range": [[1, 0], [1, 0], [3, 3]]}, "legend": null}
   }}
 ]},
{"title": "Cambodia", "width": 200, "height": 338,
 "layer": [
  {"data": {"values": [{}]}, "mark": {"type": "rule", "color": "black", "strokeWidth": 1.5}, "encoding": {"y": {"datum": 0, "type": "quantitative", "scale": {"domain": [0, 7], "nice": false, "zero": false}, "axis": {"values": [0, 1, 2, 3, 4, 5, 6, 7], "title": "%"}}}},
  {"data": {"name": "igrid"}, "mark": {"type": "point", "shape": "M0,0L0,-1", "size": 100, "filled": false, "color": "black", "strokeWidth": 1.5, "opacity": 1}, "encoding": {"x": {"field": "date", "type": "temporal", "scale": {"domain": [{"year": 2017, "month": 1, "date": 1}, {"year": 2018, "month": 6, "date": 1}]}, "axis": {"values": [{"year": 2017, "month": 1, "date": 1}, {"year": 2017, "month": 5, "date": 1}, {"year": 2017, "month": 9, "date": 1}, {"year": 2018, "month": 1, "date": 1}, {"year": 2018, "month": 5, "date": 1}], "format": "%b-%Y", "title": null}}, "y": {"datum": 0, "type": "quantitative"}}},
  {"data": {"name": "cpi"},
   "transform": [{"filter": "datum.country === 'Cambodia'"}, {"fold": ["Food", "Core", "Headline"], "as": ["series", "value"]}, {"filter": "isValid(datum.value)"}],
   "mark": {"type": "line", "strokeWidth": 3},
   "encoding": {
    "x": {"field": "date", "type": "temporal", "scale": {"domain": [{"year": 2017, "month": 1, "date": 1}, {"year": 2018, "month": 6, "date": 1}]}, "axis": {"values": [{"year": 2017, "month": 1, "date": 1}, {"year": 2017, "month": 5, "date": 1}, {"year": 2017, "month": 9, "date": 1}, {"year": 2018, "month": 1, "date": 1}, {"year": 2018, "month": 5, "date": 1}], "format": "%b-%Y", "title": null}},
    "y": {"field": "value", "type": "quantitative", "scale": {"domain": [0, 7], "nice": false, "zero": false}, "axis": {"values": [0, 1, 2, 3, 4, 5, 6, 7], "title": "%"}},
    "color": {"field": "series", "type": "nominal", "scale": {"domain": ["Headline", "Food", "Core"], "range": ["#4F81BD", "#878787", "#4F81BD"]}, "legend": null},
    "strokeDash": {"field": "series", "type": "nominal", "scale": {"domain": ["Headline", "Food", "Core"], "range": [[1, 0], [1, 0], [3, 3]]}, "legend": null}
   }}
 ]},
{"title": "Lao PDR", "width": 204, "height": 338,
 "layer": [
  {"data": {"values": [{}]}, "mark": {"type": "rule", "color": "black", "strokeWidth": 1.5}, "encoding": {"y": {"datum": 0, "type": "quantitative", "scale": {"domain": [-3, 4], "nice": false, "zero": false}, "axis": {"values": [-3, -2, -1, 0, 1, 2, 3, 4], "title": "%"}}}},
  {"data": {"name": "igrid"}, "mark": {"type": "point", "shape": "M0,0L0,-1", "size": 100, "filled": false, "color": "black", "strokeWidth": 1.5, "opacity": 1}, "encoding": {"x": {"field": "date", "type": "temporal", "scale": {"domain": [{"year": 2017, "month": 1, "date": 1}, {"year": 2018, "month": 6, "date": 1}]}, "axis": {"values": [{"year": 2017, "month": 1, "date": 1}, {"year": 2017, "month": 5, "date": 1}, {"year": 2017, "month": 9, "date": 1}, {"year": 2018, "month": 1, "date": 1}, {"year": 2018, "month": 5, "date": 1}], "format": "%b-%Y", "title": null}}, "y": {"datum": 0, "type": "quantitative"}}},
  {"data": {"name": "cpi"},
   "transform": [{"filter": "datum.country === 'Lao PDR'"}, {"fold": ["Food", "Core", "Headline"], "as": ["series", "value"]}, {"filter": "isValid(datum.value)"}],
   "mark": {"type": "line", "strokeWidth": 3},
   "encoding": {
    "x": {"field": "date", "type": "temporal", "scale": {"domain": [{"year": 2017, "month": 1, "date": 1}, {"year": 2018, "month": 6, "date": 1}]}, "axis": {"values": [{"year": 2017, "month": 1, "date": 1}, {"year": 2017, "month": 5, "date": 1}, {"year": 2017, "month": 9, "date": 1}, {"year": 2018, "month": 1, "date": 1}, {"year": 2018, "month": 5, "date": 1}], "format": "%b-%Y", "title": null}},
    "y": {"field": "value", "type": "quantitative", "scale": {"domain": [-3, 4], "nice": false, "zero": false}, "axis": {"values": [-3, -2, -1, 0, 1, 2, 3, 4], "title": "%"}},
    "color": {"field": "series", "type": "nominal", "scale": {"domain": ["Headline", "Food", "Core"], "range": ["#4F81BD", "#878787", "#4F81BD"]}, "legend": null},
    "strokeDash": {"field": "series", "type": "nominal", "scale": {"domain": ["Headline", "Food", "Core"], "range": [[1, 0], [1, 0], [3, 3]]}, "legend": null}
   }}
 ]},
{"title": "Myanmar", "width": 198, "height": 338,
 "layer": [
  {"data": {"values": [{}]}, "mark": {"type": "rule", "color": "black", "strokeWidth": 1.5}, "encoding": {"y": {"datum": 0, "type": "quantitative", "scale": {"domain": [0, 10], "nice": false, "zero": false}, "axis": {"values": [0, 2, 4, 6, 8, 10], "title": "%"}}}},
  {"data": {"name": "igrid"}, "mark": {"type": "point", "shape": "M0,0L0,-1", "size": 100, "filled": false, "color": "black", "strokeWidth": 1.5, "opacity": 1}, "encoding": {"x": {"field": "date", "type": "temporal", "scale": {"domain": [{"year": 2017, "month": 1, "date": 1}, {"year": 2018, "month": 6, "date": 1}]}, "axis": {"values": [{"year": 2017, "month": 1, "date": 1}, {"year": 2017, "month": 5, "date": 1}, {"year": 2017, "month": 9, "date": 1}, {"year": 2018, "month": 1, "date": 1}, {"year": 2018, "month": 5, "date": 1}], "format": "%b-%Y", "title": null}}, "y": {"datum": 0, "type": "quantitative"}}},
  {"data": {"name": "cpi"},
   "transform": [{"filter": "datum.country === 'Myanmar'"}, {"fold": ["Food", "Core", "Headline"], "as": ["series", "value"]}, {"filter": "isValid(datum.value)"}],
   "mark": {"type": "line", "strokeWidth": 3},
   "encoding": {
    "x": {"field": "date", "type": "temporal", "scale": {"domain": [{"year": 2017, "month": 1, "date": 1}, {"year": 2018, "month": 6, "date": 1}]}, "axis": {"values": [{"year": 2017, "month": 1, "date": 1}, {"year": 2017, "month": 5, "date": 1}, {"year": 2017, "month": 9, "date": 1}, {"year": 2018, "month": 1, "date": 1}, {"year": 2018, "month": 5, "date": 1}], "format": "%b-%Y", "title": null}},
    "y": {"field": "value", "type": "quantitative", "scale": {"domain": [0, 10], "nice": false, "zero": false}, "axis": {"values": [0, 2, 4, 6, 8, 10], "title": "%"}},
    "color": {"field": "series", "type": "nominal", "scale": {"domain": ["Headline", "Food", "Core"], "range": ["#4F81BD", "#878787", "#4F81BD"]}, "legend": null},
    "strokeDash": {"field": "series", "type": "nominal", "scale": {"domain": ["Headline", "Food", "Core"], "range": [[1, 0], [1, 0], [3, 3]]}, "legend": null}
   }}
 ]},
{"title": "China", "width": 210, "height": 339,
 "layer": [
  {"data": {"values": [{}]}, "mark": {"type": "rule", "color": "black", "strokeWidth": 1.5}, "encoding": {"y": {"datum": 0, "type": "quantitative", "scale": {"domain": [-6, 6], "nice": false, "zero": false}, "axis": {"values": [-6, -4, -2, 0, 2, 4, 6], "title": "%"}}}},
  {"data": {"name": "igrid"}, "mark": {"type": "point", "shape": "M0,0L0,-1", "size": 100, "filled": false, "color": "black", "strokeWidth": 1.5, "opacity": 1}, "encoding": {"x": {"field": "date", "type": "temporal", "scale": {"domain": [{"year": 2017, "month": 1, "date": 1}, {"year": 2018, "month": 5, "date": 25}]}, "axis": {"values": [{"year": 2017, "month": 1, "date": 1}, {"year": 2017, "month": 5, "date": 1}, {"year": 2017, "month": 9, "date": 1}, {"year": 2018, "month": 1, "date": 1}, {"year": 2018, "month": 5, "date": 1}], "format": "%b-%Y", "title": null}}, "y": {"datum": 0, "type": "quantitative"}}},
  {"data": {"name": "cpi"},
   "transform": [{"filter": "datum.country === 'China'"}, {"fold": ["Food", "Core", "Headline"], "as": ["series", "value"]}, {"filter": "isValid(datum.value)"}],
   "mark": {"type": "line", "strokeWidth": 3},
   "encoding": {
    "x": {"field": "date", "type": "temporal", "scale": {"domain": [{"year": 2017, "month": 1, "date": 1}, {"year": 2018, "month": 5, "date": 25}]}, "axis": {"values": [{"year": 2017, "month": 1, "date": 1}, {"year": 2017, "month": 5, "date": 1}, {"year": 2017, "month": 9, "date": 1}, {"year": 2018, "month": 1, "date": 1}, {"year": 2018, "month": 5, "date": 1}], "format": "%b-%Y", "title": null}},
    "y": {"field": "value", "type": "quantitative", "scale": {"domain": [-6, 6], "nice": false, "zero": false}, "axis": {"values": [-6, -4, -2, 0, 2, 4, 6], "title": "%"}},
    "color": {"field": "series", "type": "nominal", "scale": {"domain": ["Headline", "Food", "Core"], "range": ["#4F81BD", "#878787", "#4F81BD"]}, "legend": null},
    "strokeDash": {"field": "series", "type": "nominal", "scale": {"domain": ["Headline", "Food", "Core"], "range": [[1, 0], [1, 0], [3, 3]]}, "legend": null}
   }}
 ]},
{"title": "India", "width": 219, "height": 339,
 "layer": [
  {"data": {"values": [{}]}, "mark": {"type": "rule", "color": "black", "strokeWidth": 1.5}, "encoding": {"y": {"datum": 0, "type": "quantitative", "scale": {"domain": [-4, 8], "nice": false, "zero": false}, "axis": {"values": [-4, -2, 0, 2, 4, 6, 8], "title": "%"}}}},
  {"data": {"name": "igrid"}, "mark": {"type": "point", "shape": "M0,0L0,-1", "size": 100, "filled": false, "color": "black", "strokeWidth": 1.5, "opacity": 1}, "encoding": {"x": {"field": "date", "type": "temporal", "scale": {"domain": [{"year": 2017, "month": 1, "date": 1}, {"year": 2018, "month": 6, "date": 1}]}, "axis": {"values": [{"year": 2017, "month": 1, "date": 1}, {"year": 2017, "month": 5, "date": 1}, {"year": 2017, "month": 9, "date": 1}, {"year": 2018, "month": 1, "date": 1}, {"year": 2018, "month": 5, "date": 1}], "format": "%b-%Y", "title": null}}, "y": {"datum": 0, "type": "quantitative"}}},
  {"data": {"name": "cpi"},
   "transform": [{"filter": "datum.country === 'India'"}, {"fold": ["Food", "Core", "Headline"], "as": ["series", "value"]}, {"filter": "isValid(datum.value)"}],
   "mark": {"type": "line", "strokeWidth": 3},
   "encoding": {
    "x": {"field": "date", "type": "temporal", "scale": {"domain": [{"year": 2017, "month": 1, "date": 1}, {"year": 2018, "month": 6, "date": 1}]}, "axis": {"values": [{"year": 2017, "month": 1, "date": 1}, {"year": 2017, "month": 5, "date": 1}, {"year": 2017, "month": 9, "date": 1}, {"year": 2018, "month": 1, "date": 1}, {"year": 2018, "month": 5, "date": 1}], "format": "%b-%Y", "title": null}},
    "y": {"field": "value", "type": "quantitative", "scale": {"domain": [-4, 8], "nice": false, "zero": false}, "axis": {"values": [-4, -2, 0, 2, 4, 6, 8], "title": "%"}},
    "color": {"field": "series", "type": "nominal", "scale": {"domain": ["Headline", "Food", "Core"], "range": ["#4F81BD", "#878787", "#4F81BD"]}, "legend": null},
    "strokeDash": {"field": "series", "type": "nominal", "scale": {"domain": ["Headline", "Food", "Core"], "range": [[1, 0], [1, 0], [3, 3]]}, "legend": null}
   }}
 ]}
]}
],
"config": {
 "font": "Liberation Sans",
 "view": {"stroke": "#000000", "strokeWidth": 2, "fill": "#EFFFFF"},
 "axis": {"labelFont": "Liberation Sans", "labelColor": "#404040", "grid": true, "gridColor": "#FFFFFF", "gridWidth": 1.2, "domain": false, "ticks": false, "tickSize": 0, "labelOverlap": false, "labelFlush": false, "labelBound": false, "titleFont": "Liberation Sans", "titleFontSize": 16, "titleFontWeight": "bold", "titleColor": "#404040"},
 "axisX": {"labelFontSize": 15, "labelAngle": -45, "labelAlign": "right", "labelBaseline": "top", "labelPadding": 3, "labelOffset": 2, "labelOverlap": false, "labelFlush": false},
 "axisY": {"labelFontSize": 16, "labelExpr": "toString(datum.value)", "labelPadding": 17, "labelAlign": "right", "labelBaseline": "middle", "labelOverlap": false, "titleAngle": 0, "titleAlign": "right", "titleBaseline": "middle", "titleX": -18, "titleY": -21},
 "title": {"font": "Liberation Sans", "fontSize": 20, "fontWeight": "bold", "color": "#000000", "anchor": "middle", "frame": "group", "offset": 10},
 "line": {"strokeCap": "butt", "strokeJoin": "round"}
}
}
